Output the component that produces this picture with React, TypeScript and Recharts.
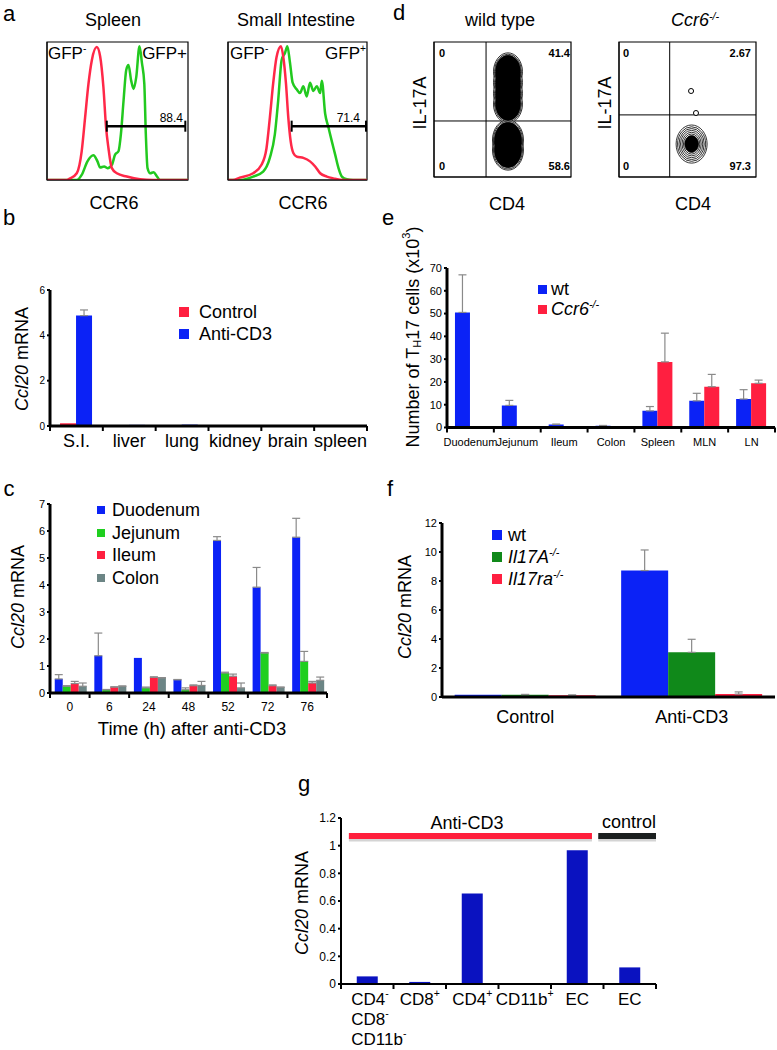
import React from 'react';
import {
  BarChart,
  Bar,
  XAxis,
  YAxis,
  ErrorBar,
  LineChart,
  Line,
  ScatterChart,
  Scatter,
  ZAxis,
  ReferenceLine,
  ReferenceArea,
} from 'recharts';

const FONT = '"Liberation Sans", Arial, Helvetica, sans-serif';

const BLUE = '#0b22f6';
const RED = '#ff1f40';
const GREEN = '#1fcf1f';
const GREY = '#6c8585';
const DKGREEN = '#10891a';
const NAVY = '#0a12c0';
const HIST_RED = '#ff2848';
const HIST_GREEN = '#22c91f';

// ---- a: CCR6 histograms, x = % of CCR6 axis, y = % of mode
const spleenNeg = [[0, 0], [14, 0], [16.4, 1.2], [21.1, 4.9], [24.6, 20.8], [27, 45], [29.4, 69.6], [31.8, 86.8], [35.3, 96.3], [37.7, 89.5], [40, 67.4], [41.9, 38], [43.6, 23], [46, 8.6], [49.5, 4.9], [56.6, 2.5], [66, 0.5], [75, 0], [100, 0]];
const spleenPos = [[0, 0], [21.1, 0], [24.6, 3.7], [28.7, 13.5], [32.9, 17.9], [35.8, 13.5], [37.7, 9.1], [40.5, 9.8], [42.9, 8.6], [46, 11], [48.3, 18.4], [50.7, 20.8], [52.4, 33], [54.3, 57.6], [56.2, 79.7], [57.8, 83.3], [59.7, 72], [61.4, 66], [63.3, 74.5], [65.6, 97], [67.3, 85], [69, 70], [70.1, 33], [71.3, 8.6], [73.2, 4.9], [75.6, 5.6], [78, 2.5], [80.3, 0], [100, 0]];
const siNeg = [[0, 0], [3.6, 0], [8.4, 1.7], [18.1, 4.9], [24.1, 11], [27.7, 23], [30.1, 45], [32.5, 70], [34.9, 89], [38.1, 97], [39.8, 89], [41.7, 70], [43.4, 45], [45.1, 28], [47, 19.6], [49.4, 17], [54.2, 16], [59, 13.5], [62.7, 9.8], [66.3, 4.9], [71.1, 2.5], [75.9, 1.2], [83.1, 0], [100, 0]];
const siPos = [[0, 0], [8.4, 0], [18.1, 2.5], [25.3, 6.1], [30.1, 16], [33.7, 33], [36.1, 57.6], [38.6, 87], [41, 92], [42.7, 97], [44.6, 85], [46.5, 70.5], [49.4, 65.7], [51.8, 63], [54.2, 68], [56.6, 60.5], [59, 70.5], [61.4, 64.5], [63.9, 68], [66.3, 63], [67.5, 72], [69.9, 48], [72.3, 38], [74.7, 28], [77.1, 18.4], [79.5, 8.6], [81.9, 2.5], [85.5, 0.5], [90, 0], [100, 0]];
const spleenGate = { from: 42.4, to: 98.1, level: 39 };
const siGate = { from: 45.8, to: 99.3, level: 39 };
const aXTicks = [0, 22, 44, 66, 88];
const aYTicks = [0, 20, 40, 60, 80, 100];

// ---- d: IL-17A vs CD4 contours (axis %, z = contour level)
const wtUpperY = [78, 70, 62, 54];
const wtLowerY = [27.4, 20];
const wtOuter = [...wtUpperY.map((y) => ({ x: 54, y, z: 660 })), ...wtLowerY.map((y) => ({ x: 54, y, z: 755 }))];
const wtMid = [...wtUpperY.map((y) => ({ x: 54, y, z: 575 })), ...wtLowerY.map((y) => ({ x: 54, y, z: 665 }))];
const wtCore = [...wtUpperY.map((y) => ({ x: 54, y, z: 500 })), ...wtLowerY.map((y) => ({ x: 54, y, z: 585 }))];
const koRings = [{ x: 53, y: 24.4, z: 755 }, { x: 53, y: 24.4, z: 620 }, { x: 53, y: 24.4, z: 500 }, { x: 53, y: 24.4, z: 390 }, { x: 53, y: 24.4, z: 290 }, { x: 53, y: 24.4, z: 210 }];
const koCore = [{ x: 53, y: 24.4, z: 150 }];
const koDots = [{ x: 52.6, y: 63.7, z: 20 }, { x: 56.2, y: 47.4, z: 20 }];
const dXTicks = [0, 26, 52, 78];
const dYTicks = [10, 22, 46, 70, 92];

// ---- b
const bNames = ['S.I.', 'liver', 'lung', 'kidney', 'brain', 'spleen'];
const bControl = [0.12, 0.01, 0.04, 0.01, 0.01, 0.01];
const bAnti = [4.87, 0.05, 0.06, 0.03, 0.01, 0.01];
const bAntiErr = [0.25, 0, 0, 0, 0, 0];

// ---- c
const cNames = ['0', '6', '24', '48', '52', '72', '76'];
const cDuo = [0.52, 1.38, 1.3, 0.49, 5.65, 3.92, 5.77];
const cDuoErr = [0.16, 0.84, 0, 0.01, 0.14, 0.73, 0.7];
const cJej = [0.25, 0.12, 0.19, 0.12, 0.74, 1.48, 1.17];
const cJejErr = [0.02, 0.01, 0.03, 0.07, 0.03, 0.02, 0.37];
const cIle = [0.35, 0.22, 0.58, 0.27, 0.62, 0.27, 0.37];
const cIleErr = [0.08, 0.01, 0.02, 0.03, 0.08, 0.03, 0.06];
const cCol = [0.25, 0.25, 0.56, 0.28, 0.19, 0.21, 0.47];
const cColErr = [0.12, 0.01, 0.01, 0.15, 0.18, 0.01, 0.12];

// ---- e
const eNames = ['Duodenum', 'Jejunum', 'Ileum', 'Colon', 'Spleen', 'MLN', 'LN'];
const eWt = [50.5, 9.7, 1.3, 0.8, 7.3, 11.7, 12.5];
const eWtErr = [16.5, 2.2, 0.2, 0.1, 1.9, 3.3, 4.1];
const eKo = [0, 0, 0, 0, 28.8, 17.9, 19.4];
const eKoErr = [0, 0, 0, 0, 12.6, 5.4, 1.4];

// ---- f
const fNames = ['Control', 'Anti-CD3'];
const fWt = [0.15, 8.72];
const fWtErr = [0, 1.42];
const fIl17a = [0.15, 3.08];
const fIl17aErr = [0.03, 0.9];
const fIl17ra = [0.12, 0.2];
const fIl17raErr = [0.02, 0.15];

// ---- g
const gNames = ['CD4-/CD8-/CD11b-', 'CD8+', 'CD4+', 'CD11b+', 'EC', 'EC'];
const gValues = [0.055, 0.015, 0.655, 0.005, 0.967, 0.12];
const gGroups = [
  { label: 'Anti-CD3', from: 0.15, to: 4.78, color: '#ff1f3c' },
  { label: 'control', from: 4.9, to: 6, color: '#1b1f1f' },
];
const gLevel = 1.069;

const pts = (arr: number[][]) => arr.map(([x, y]) => ({ x, y }));
const errOf = (e: number) => (e > 0 ? [0, e] : null);

const bRows = bNames.map((name, i) => ({ name, control: bControl[i], anti: bAnti[i], antiErr: errOf(bAntiErr[i]) }));
const cRows = cNames.map((name, i) => ({
  name,
  duo: cDuo[i], duoErr: errOf(cDuoErr[i]),
  jej: cJej[i], jejErr: errOf(cJejErr[i]),
  ile: cIle[i], ileErr: errOf(cIleErr[i]),
  col: cCol[i], colErr: errOf(cColErr[i]),
}));
const eRows = eNames.map((name, i) => ({ name, wt: eWt[i], wtErr: errOf(eWtErr[i]), ko: eKo[i], koErr: errOf(eKoErr[i]) }));
const fRows = fNames.map((name, i) => ({
  name,
  wt: fWt[i], wtErr: errOf(fWtErr[i]),
  a: fIl17a[i], aErr: errOf(fIl17aErr[i]),
  ra: fIl17ra[i], raErr: errOf(fIl17raErr[i]),
}));
const gRows = gNames.map((name, i) => ({ name, v: gValues[i] }));

function supText(s: string, fs: number) {
  const m = s.match(/^(.+?)([+-])$/);
  if (!m) return s;
  return [
    <tspan key="b">{m[1]}</tspan>,
    <tspan key="s" dy={-fs * 0.38} fontSize={fs * 0.62}>{m[2]}</tspan>,
  ];
}

function CatTick(props: any) {
  const { x, y, payload, names, fontSize, dy, edge, lineH } = props;
  const v = payload.value;
  if (Number.isInteger(v)) {
    return edge ? <line x1={x} x2={x} y1={y} y2={y + 5} stroke="#000" strokeWidth={2} /> : <g />;
  }
  const lines: string[] = names[Math.floor(v)].split('/');
  const multi = lines.length > 1;
  return (
    <g>
      {lines.map((ln, i) => (
        <text
          key={i}
          x={multi ? x - 16 : x}
          y={y + dy + i * lineH}
          textAnchor={multi ? 'start' : 'middle'}
          dominantBaseline="central"
          fontSize={fontSize}
          fontFamily={FONT}
          fill="#000"
        >
          {supText(ln, fontSize)}
        </text>
      ))}
    </g>
  );
}

type S = { key: string; err?: string; color: string };

function BarPanel(props: any) {
  const { x, y, w, h, data, series, yMax, yTicks, yFont, names, tickFont, labelDy, catGap, axisH = 40, edge = true, lineW = 3, lineH = 21, mr = 6, children } = props;
  const n = names.length;
  const ticks: number[] = [];
  for (let i = 0; i <= n; i++) {
    ticks.push(i);
    if (i < n) ticks.push(i + 0.5);
  }
  // numeric position of each category centre, used by the edge axis
  const rows = data.map((d: any, i: number) => ({ ...d, idx: i + 0.5 }));
  const yw = 35;
  const mt = 8;
  return (
    <div style={{ position: 'absolute', left: x - yw, top: y - mt }}>
      <BarChart
        width={yw + w + mr}
        height={mt + h + axisH}
        data={rows}
        margin={{ top: mt, right: mr, left: 0, bottom: 0 }}
        barCategoryGap={catGap}
        barGap={0}
      >
        <XAxis dataKey="name" hide height={0} />
        <XAxis
          xAxisId="edge"
          dataKey="idx"
          type="number"
          domain={[0, n]}
          ticks={ticks}
          interval={0}
          allowDataOverflow
          tickLine={false}
          tickSize={0}
          tickMargin={0}
          height={axisH}
          axisLine={{ stroke: '#000', strokeWidth: lineW }}
          tick={(p: any) => <CatTick {...p} names={names} fontSize={tickFont} dy={labelDy} edge={edge} lineH={lineH} />}
        />
        <YAxis
          type="number"
          domain={[0, yMax]}
          ticks={yTicks}
          interval={0}
          allowDataOverflow
          width={yw}
          tickSize={3}
          tickMargin={2}
          axisLine={{ stroke: '#000', strokeWidth: lineW }}
          tickLine={{ stroke: '#000', strokeWidth: 2 }}
          tick={{ fontSize: yFont, fill: '#000', fontFamily: FONT }}
        />
        {series.map((s: S) => (
          <Bar key={s.key} dataKey={s.key} fill={s.color} isAnimationActive={false}>
            {s.err && <ErrorBar dataKey={s.err} width={4} stroke="#8a8a8a" strokeWidth={1.2} direction="y" />}
          </Bar>
        ))}
        {children}
      </BarChart>
    </div>
  );
}

function Histogram({ x, y, w, h, neg, pos, gate }: any) {
  const yw = 6;
  const mt = 4;
  const mr = 4;
  const xh = 8;
  const cap = (at: number) => [{ x: at, y: gate.level - 4 }, { x: at, y: gate.level + 4 }];
  return (
    <div style={{ position: 'absolute', left: x - yw, top: y - mt }}>
      <LineChart width={yw + w + mr} height={mt + h + xh} margin={{ top: mt, right: mr, left: 0, bottom: 0 }}>
        <XAxis type="number" dataKey="x" domain={[0, 100]} ticks={aXTicks} interval={0} tick={false} tickSize={4} height={xh} allowDataOverflow axisLine={{ stroke: '#000' }} tickLine={{ stroke: '#000' }} />
        <YAxis type="number" dataKey="y" domain={[0, 100]} ticks={aYTicks} interval={0} tick={false} tickSize={4} width={yw} allowDataOverflow axisLine={{ stroke: '#000' }} tickLine={{ stroke: '#000' }} />
        <ReferenceArea x1={0} x2={100} y1={0} y2={100} fill="none" stroke="#000" strokeWidth={1.2} />
        <Line data={pts(pos)} dataKey="y" type="monotone" stroke={HIST_GREEN} strokeWidth={2.5} dot={false} isAnimationActive={false} />
        <Line data={pts(neg)} dataKey="y" type="monotone" stroke={HIST_RED} strokeWidth={2.5} dot={false} isAnimationActive={false} />
        <ReferenceLine segment={[{ x: gate.from, y: gate.level }, { x: gate.to, y: gate.level }]} stroke="#000" strokeWidth={2.5} />
        <ReferenceLine segment={cap(gate.from)} stroke="#000" strokeWidth={2} />
        <ReferenceLine segment={cap(gate.to)} stroke="#000" strokeWidth={2} />
      </LineChart>
    </div>
  );
}

const ring = (aspect: number, fill: string, sw = 0.8) => (p: any) => (
  <ellipse cx={p.cx} cy={p.cy} rx={p.width / 2} ry={(p.width / 2) * aspect} fill={fill} stroke="#000" strokeWidth={sw} />
);

function Contour({ x, y, w, h, vLine, hLine, layers }: any) {
  const yw = 6;
  const mt = 4;
  const mr = 4;
  const xh = 8;
  return (
    <div style={{ position: 'absolute', left: x - yw, top: y - mt }}>
      <ScatterChart width={yw + w + mr} height={mt + h + xh} margin={{ top: mt, right: mr, left: 0, bottom: 0 }}>
        <XAxis type="number" dataKey="x" domain={[0, 100]} ticks={dXTicks} interval={0} tick={false} tickSize={4} height={xh} allowDataOverflow axisLine={{ stroke: '#000' }} tickLine={{ stroke: '#000' }} />
        <YAxis type="number" dataKey="y" domain={[0, 100]} ticks={dYTicks} interval={0} tick={false} tickSize={4} width={yw} allowDataOverflow axisLine={{ stroke: '#000' }} tickLine={{ stroke: '#000' }} />
        <ZAxis type="number" dataKey="z" domain={[0, 1000]} range={[0, 1000]} />
        <ReferenceArea x1={0} x2={100} y1={0} y2={100} fill="none" stroke="#000" strokeWidth={1.2} />
        {layers.map((l: any, i: number) => (
          <Scatter key={i} data={l.data} shape={ring(l.aspect, l.fill, l.sw)} isAnimationActive={false} />
        ))}
        <ReferenceLine x={vLine} stroke="#000" strokeWidth={1} />
        <ReferenceLine y={hLine} stroke="#000" strokeWidth={1} />
      </ScatterChart>
    </div>
  );
}

function T({ x, y, size = 18, children, anchor = 'middle', rotate = false, italic = false, bold = false }: any) {
  const tx = anchor === 'middle' ? '-50%' : anchor === 'end' ? '-100%' : '0';
  return (
    <div
      style={{
        position: 'absolute',
        left: x,
        top: y,
        transform: rotate ? 'translate(-50%, -50%) rotate(-90deg)' : `translate(${tx}, -50%)`,
        transformOrigin: 'center center',
        fontSize: size,
        lineHeight: 1,
        whiteSpace: 'nowrap',
        fontStyle: italic ? 'italic' : 'normal',
        fontWeight: bold ? 'bold' : 'normal',
      }}
    >
      {children}
    </div>
  );
}

// vertical axis title drawn as svg text
function VLabel({ x, y, size = 18, children }: any) {
  const H = 320;
  return (
    <svg style={{ position: 'absolute', left: x - 15, top: y - H / 2, overflow: 'visible' }} width={30} height={H}>
      <text transform={`translate(15 ${H / 2}) rotate(-90)`} textAnchor="middle" dominantBaseline="central" fontSize={size} fontFamily={FONT} fill="#000">
        {children}
      </text>
    </svg>
  );
}

const Sup = ({ children }: any) => <span style={{ fontSize: '0.6em', verticalAlign: '0.6em' }}>{children}</span>;

function LegendBox({ x, y, items, gap, sq, textDx, size = 18 }: any) {
  return (
    <>
      {items.map((it: any, i: number) => (
        <React.Fragment key={i}>
          <div style={{ position: 'absolute', left: x, top: y + i * gap - sq / 2, width: sq, height: sq, background: it.color }} />
          <T x={x + textDx} y={y + i * gap} size={size} anchor="start">{it.label}</T>
        </React.Fragment>
      ))}
    </>
  );
}

const ccl20 = (
  <>
    <i>Ccl20</i> mRNA
  </>
);

export default function App() {
  return (
    <div style={{ position: 'absolute', left: 0, top: 0, width: 777, height: 1050, background: '#fff', overflow: 'hidden', fontFamily: FONT, color: '#000' }}>
      {/* panel letters */}
      <T x={9} y={14} size={22}>a</T>
      <T x={9} y={218} size={22}>b</T>
      <T x={9} y={489} size={22}>c</T>
      <T x={399} y={13} size={22}>d</T>
      <T x={388} y={218} size={22}>e</T>
      <T x={390} y={489} size={22}>f</T>
      <T x={304} y={784} size={22}>g</T>

      {/* a */}
      <T x={113} y={20}>Spleen</T>
      <T x={296} y={20}>Small Intestine</T>
      <Histogram x={47} y={42} w={141} h={138} neg={spleenNeg} pos={spleenPos} gate={spleenGate} />
      <Histogram x={228} y={42} w={139} h={138} neg={siNeg} pos={siPos} gate={siGate} />
      <T x={48} y={53} size={17} anchor="start">GFP<Sup>-</Sup></T>
      <T x={187} y={53} size={17} anchor="end">GFP+</T>
      <T x={230} y={53} size={17} anchor="start">GFP<Sup>-</Sup></T>
      <T x={366} y={53} size={17} anchor="end">GFP<Sup>+</Sup></T>
      <T x={183} y={118} size={12} anchor="end">88.4</T>
      <T x={360} y={118} size={12} anchor="end">71.4</T>
      <T x={114} y={203}>CCR6</T>
      <T x={303} y={203}>CCR6</T>

      {/* d */}
      <T x={500} y={20}>wild type</T>
      <T x={695} y={20} italic>Ccr6<Sup>-/-</Sup></T>
      <Contour
        x={434} y={42} w={137} h={135} vLine={38} hLine={41.5}
        layers={[
          { data: wtOuter, aspect: 1.3, fill: '#fff' },
          { data: wtMid, aspect: 1.3, fill: '#fff' },
          { data: wtCore, aspect: 1.3, fill: '#000' },
        ]}
      />
      <Contour
        x={619} y={42} w={137} h={135} vLine={37} hLine={46}
        layers={[
          { data: koRings, aspect: 1.23, fill: 'none' },
          { data: koCore, aspect: 1.23, fill: '#000' },
          { data: koDots, aspect: 1, fill: '#fff', sw: 1 },
        ]}
      />
      <T x={442} y={53} size={11} bold>0</T>
      <T x={570} y={53} size={11} bold anchor="end">41.4</T>
      <T x={442} y={166} size={11} bold>0</T>
      <T x={570} y={166} size={11} bold anchor="end">58.6</T>
      <T x={626} y={53} size={11} bold>0</T>
      <T x={751} y={53} size={11} bold anchor="end">2.67</T>
      <T x={626} y={166} size={11} bold>0</T>
      <T x={751} y={166} size={11} bold anchor="end">97.3</T>
      <T x={420} y={103} rotate>IL-17A</T>
      <T x={605} y={103} rotate>IL-17A</T>
      <T x={507} y={204}>CD4</T>
      <T x={693} y={204}>CD4</T>

      {/* b */}
      <BarPanel
        x={50} y={290} w={317} h={136} data={bRows} names={bNames} yMax={6} yTicks={[0, 2, 4, 6]} yFont={10}
        tickFont={18} labelDy={15} catGap="19%"
        series={[{ key: 'control', color: RED }, { key: 'anti', err: 'antiErr', color: BLUE }]}
      />
      <LegendBox x={179} y={312} gap={22} sq={10} textDx={20} items={[{ label: 'Control', color: RED }, { label: 'Anti-CD3', color: BLUE }]} />
      <T x={22} y={359} rotate>{ccl20}</T>

      {/* c */}
      <BarPanel
        x={50} y={504} w={277} h={189} data={cRows} names={cNames} yMax={7} yTicks={[0, 1, 2, 3, 4, 5, 6, 7]} yFont={11}
        tickFont={12} labelDy={14} catGap="12%"
        series={[
          { key: 'duo', err: 'duoErr', color: BLUE },
          { key: 'jej', err: 'jejErr', color: GREEN },
          { key: 'ile', err: 'ileErr', color: RED },
          { key: 'col', err: 'colErr', color: GREY },
        ]}
      />
      <LegendBox
        x={97} y={510} gap={22.7} sq={8} textDx={15}
        items={[
          { label: 'Duodenum', color: BLUE },
          { label: 'Jejunum', color: GREEN },
          { label: 'Ileum', color: RED },
          { label: 'Colon', color: GREY },
        ]}
      />
      <T x={18} y={597} rotate>{ccl20}</T>
      <T x={192} y={729} size={18.5}>Time (h) after anti-CD3</T>

      {/* e */}
      <BarPanel
        x={447} y={268} w={328} h={159.5} mr={2} data={eRows} names={eNames} yMax={70} yTicks={[0, 10, 20, 30, 40, 50, 60, 70]} yFont={11}
        tickFont={11} labelDy={14.5} catGap="17%"
        series={[{ key: 'wt', err: 'wtErr', color: BLUE }, { key: 'ko', err: 'koErr', color: RED }]}
      />
      <LegendBox
        x={538} y={289} gap={20} sq={9} textDx={13} size={18}
        items={[
          { label: 'wt', color: BLUE },
          { label: <i>Ccr6<Sup>-/-</Sup></i>, color: RED },
        ]}
      />
      <VLabel x={413} y={337} size={18}>
        <tspan>Number of T</tspan>
        <tspan dy={4} fontSize={11}>H</tspan>
        <tspan dy={-4}>17 cells (x10</tspan>
        <tspan dy={-7} fontSize={11}>3</tspan>
        <tspan dy={7}>)</tspan>
      </VLabel>

      {/* f */}
      <BarPanel
        x={442} y={523} w={333} h={174} mr={0} data={fRows} names={fNames} yMax={12} yTicks={[0, 2, 4, 6, 8, 10, 12]} yFont={11}
        tickFont={18} labelDy={20} catGap="7.6%" edge={false}
        series={[
          { key: 'wt', err: 'wtErr', color: BLUE },
          { key: 'a', err: 'aErr', color: DKGREEN },
          { key: 'ra', err: 'raErr', color: RED },
        ]}
      />
      <LegendBox
        x={492} y={535} gap={22} sq={10} textDx={16}
        items={[
          { label: 'wt', color: BLUE },
          { label: <i>Il17A<Sup>-/-</Sup></i>, color: DKGREEN },
          { label: <i>Il17ra<Sup>-/-</Sup></i>, color: RED },
        ]}
      />
      <T x={405} y={607} rotate>{ccl20}</T>

      {/* g */}
      <BarPanel
        x={341} y={818} w={315} h={166} data={gRows} names={gNames} yMax={1.2} yTicks={[0, 0.2, 0.4, 0.6, 0.8, 1, 1.2]} yFont={12}
        tickFont={17} labelDy={15} lineH={20} axisH={66} catGap="30%" lineW={2}
        series={[{ key: 'v', color: NAVY }]}
      >
        {gGroups.map((g) => (
          <ReferenceLine
            key={g.label + 's'}
            xAxisId="edge"
            segment={[{ x: g.from, y: gLevel - 0.02 }, { x: g.to, y: gLevel - 0.02 }]}
            stroke="#d4d4d4"
            strokeWidth={5}
            ifOverflow="visible"
          />
        ))}
        {gGroups.map((g) => (
          <ReferenceLine
            key={g.label}
            xAxisId="edge"
            segment={[{ x: g.from, y: gLevel }, { x: g.to, y: gLevel }]}
            stroke={g.color}
            strokeWidth={6}
            ifOverflow="visible"
          />
        ))}
      </BarPanel>
      <T x={467} y={823}>Anti-CD3</T>
      <T x={629} y={822}>control</T>
      <T x={302} y={903} rotate>{ccl20}</T>
    </div>
  );
}
